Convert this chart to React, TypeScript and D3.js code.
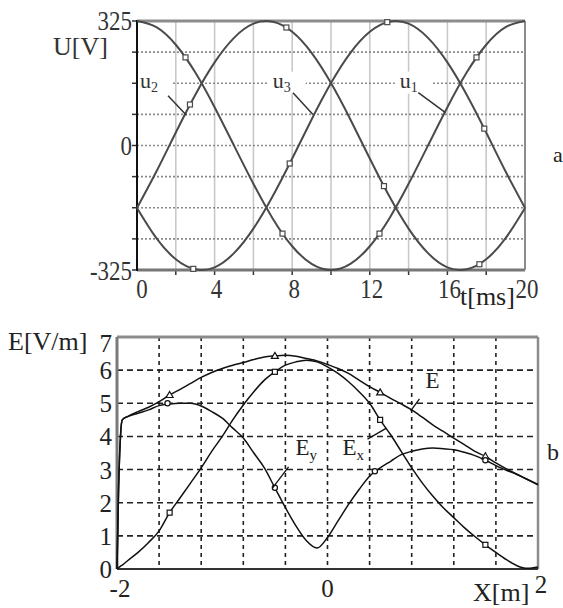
import React from "react";
import * as d3 from "d3";

// ---------- Panel a: three-phase voltages ----------
const timeMs = [0, 1, 2, 3, 4, 5, 6, 7, 8, 9, 10, 11, 12, 13, 14, 15, 16, 17, 18, 19, 20];
const u1 = [325, 309, 263, 191, 100, 0, -100, -191, -263, -309, -325, -309, -263, -191, -100, 0, 100, 191, 263, 309, 325];
const u2 = [-163, -68, 34, 132, 217, 281, 318, 323, 297, 242, 163, 68, -34, -132, -217, -281, -318, -323, -297, -242, -163];
const u3 = [-163, -242, -297, -323, -318, -281, -217, -132, -34, 68, 163, 242, 297, 323, 318, 281, 217, 132, 34, -68, -163];

const u1MarkT = [2.5, 7.5, 12.5, 17.5];
const u1MarkV = [230, -230, -230, 230];
const u2MarkT = [2.73, 7.7, 12.73, 17.65];
const u2MarkV = [107, 308, -106, -310];
const u3MarkT = [2.9, 7.87, 12.9, 17.9];
const u3MarkV = [-322, -47, 322, 44];

const uTicksX = [0, 4, 8, 12, 16, 20];
const uTicksY = [325, 0, -325];
const uGridX = [2, 4, 6, 8, 10, 12, 14, 16, 18];
const uGridY = [243.75, 162.5, 81.25, 0, -81.25, -162.5, -243.75];

// label anchor (t, U) and leader line (t0, U0) -> (t1, U1)
const uLabelNames = ["2", "3", "1"];
const uLabelT = [0.15, 7.0, 13.55];
const uLabelV = [151, 151, 151];
const uLeaderFrom = [[1.6, 130], [8.04, 138], [14.5, 138]];
const uLeaderTo = [[2.55, 79], [9.07, 81], [15.9, 86]];

// ---------- Panel b: field strength along X ----------
const xPos = [
  -2, -1.985, -1.965, -1.95, -1.9, -1.8, -1.7, -1.6, -1.5, -1.4, -1.3, -1.2, -1.1, -1.0,
  -0.9, -0.8, -0.7, -0.6, -0.5, -0.4, -0.3, -0.2, -0.1, 0, 0.1, 0.2, 0.3, 0.4, 0.5, 0.6,
  0.7, 0.8, 0.9, 1.0, 1.1, 1.2, 1.3, 1.4, 1.5, 1.6, 1.7, 1.8, 1.9, 2.0,
];
const eTotal = [
  0, 2.4, 4.1, 4.5, 4.6, 4.75, 4.88, 5.05, 5.25, 5.42, 5.6, 5.78, 5.93, 6.05,
  6.15, 6.23, 6.32, 6.4, 6.43, 6.45, 6.42, 6.35, 6.28, 6.17, 6.05, 5.9, 5.7, 5.5, 5.33, 5.15,
  4.98, 4.8, 4.58, 4.35, 4.15, 3.95, 3.75, 3.55, 3.4, 3.2, 3.02, 2.86, 2.7, 2.54,
];
const eX = [
  0, 0.04, 0.09, 0.12, 0.25, 0.5, 0.8, 1.15, 1.7, 2.15, 2.6, 3.05, 3.55, 4.0,
  4.5, 4.95, 5.35, 5.7, 5.95, 6.15, 6.25, 6.3, 6.25, 6.1, 5.9, 5.65, 5.35, 5.0, 4.5, 4.05,
  3.55, 3.05, 2.6, 2.2, 1.85, 1.55, 1.25, 0.98, 0.73, 0.5, 0.28, 0.1, 0.02, 0.06,
];
const eY = [
  0, 2.4, 4.1, 4.5, 4.6, 4.7, 4.8, 4.93, 4.98, 5.0, 5.0, 4.92, 4.75, 4.55,
  4.25, 3.95, 3.5, 3.05, 2.45, 1.85, 1.3, 0.85, 0.63, 0.95, 1.45, 1.95, 2.4, 2.8, 3.05, 3.25,
  3.45, 3.55, 3.62, 3.65, 3.63, 3.6, 3.52, 3.42, 3.28, 3.12, 2.98, 2.85, 2.7, 2.55,
];

const eMarkX = [-1.5, -0.5, 0.5, 1.5];
const eMarkV = [5.25, 6.43, 5.33, 3.4];
const exMarkX = [-1.5, -0.5, 0.5, 1.5];
const exMarkV = [1.7, 5.95, 4.5, 0.73];
const eyMarkX = [-1.52, -0.5, 0.45, 1.5];
const eyMarkV = [5.0, 2.45, 2.95, 3.28];

const eTicksY = [0, 1, 2, 3, 4, 5, 6, 7];
const eTicksX = [-2, 0, 2];
const eGridX = [-1.6, -1.2, -0.8, -0.4, 0, 0.4, 0.8, 1.2, 1.6];
const eGridY = [1, 2, 3, 4, 5, 6];

const SERIF = "Liberation Serif, DejaVu Serif, serif";

function Label({ x, y, size, anchor = "start", sx = 1, fill = "#222", children }: any) {
  return (
    <text
      transform={`translate(${x},${y}) scale(${sx},1)`}
      style={{ fontFamily: SERIF, fontSize: size }}
      textAnchor={anchor}
      fill={fill}
    >
      {children}
    </text>
  );
}

export default function App() {
  // panel a scales
  const xt = d3.scaleLinear().domain([0, 20]).range([137, 525]);
  const yu = d3.scaleLinear().domain([-325, 325]).range([270, 21]);
  const uLine = d3
    .line<number>()
    .x((_, i) => xt(timeMs[i]))
    .y((d) => yu(d))
    .curve(d3.curveNatural);

  // panel b scales
  const xm = d3.scaleLinear().domain([-2, 2]).range([117, 538]);
  const ye = d3.scaleLinear().domain([0, 7]).range([569, 337]);
  const eLine = d3
    .line<number>()
    .x((_, i) => xm(xPos[i]))
    .y((d) => ye(d))
    .curve(d3.curveMonotoneX);

  const uColor = "#4a4a4a";
  const sq = (cx: number, cy: number, key: string, stroke: string) => (
    <rect key={key} x={cx - 2.5} y={cy - 2.5} width={5} height={5} fill="#fff" stroke={stroke} strokeWidth={1.2} />
  );
  const tri = (cx: number, cy: number, key: string) => (
    <path
      key={key}
      d={`M${cx},${cy - 3.5}L${cx + 3.5},${cy + 2.5}L${cx - 3.5},${cy + 2.5}Z`}
      fill="#fff"
      stroke="#111"
      strokeWidth={1.2}
    />
  );

  return (
    <svg
      width={563}
      height={608}
      style={{ position: "absolute", left: 0, top: 0, background: "#fff", fontFamily: SERIF }}
    >
      {/* ===== Panel a ===== */}
      <g>
        {uGridX.map((t) => (
          <line key={"gx" + t} x1={xt(t)} x2={xt(t)} y1={yu(325)} y2={yu(-325)} stroke="#c9c9c9" strokeWidth={1.6} />
        ))}
        {uGridY.map((v) => (
          <line
            key={"gy" + v}
            x1={xt(0)}
            x2={xt(20)}
            y1={yu(v)}
            y2={yu(v)}
            stroke="#8a8a8a"
            strokeWidth={1.6}
            strokeDasharray="2,2"
          />
        ))}
        {/* label backgrounds */}
        {uLabelT.map((t, i) => (
          <rect key={"bg" + i} x={xt(t) - 5} y={yu(uLabelV[i]) - 16} width={38} height={22} fill="#fff" />
        ))}
        {/* axis ticks */}
        {[325, ...uGridY, -325].map((v) => (
          <line key={"lt" + v} x1={xt(0) - 5} x2={xt(0)} y1={yu(v)} y2={yu(v)} stroke="#333" strokeWidth={1.5} />
        ))}
        {uGridX.map((t) => (
          <line key={"bt" + t} x1={xt(t)} x2={xt(t)} y1={yu(-325)} y2={yu(-325) + 5} stroke="#333" strokeWidth={1.5} />
        ))}
        {/* frame */}
        <line x1={xt(0)} x2={xt(20)} y1={yu(325)} y2={yu(325)} stroke="#8c8c8c" strokeWidth={3} />
        <line x1={xt(0)} x2={xt(20)} y1={yu(-325)} y2={yu(-325)} stroke="#777" strokeWidth={3} />
        <line x1={xt(20)} x2={xt(20)} y1={yu(325)} y2={yu(-325)} stroke="#8c8c8c" strokeWidth={2} />
        <line x1={xt(0)} x2={xt(0)} y1={yu(325) - 1} y2={yu(-325) + 1} stroke="#111" strokeWidth={2} />

        {/* phase voltages */}
        {[u1, u2, u3].map((s, i) => (
          <path key={"u" + i} d={uLine(s) || ""} fill="none" stroke={uColor} strokeWidth={2} />
        ))}
        {u1MarkT.map((t, i) => sq(xt(t), yu(u1MarkV[i]), "m1" + i, uColor))}
        {u2MarkT.map((t, i) => sq(xt(t), yu(u2MarkV[i]), "m2" + i, uColor))}
        {u3MarkT.map((t, i) => sq(xt(t), yu(u3MarkV[i]), "m3" + i, uColor))}

        {/* labels and leaders */}
        {uLabelT.map((t, i) => (
          <g key={"ul" + i}>
            <line
              x1={xt(uLeaderFrom[i][0])}
              y1={yu(uLeaderFrom[i][1])}
              x2={xt(uLeaderTo[i][0])}
              y2={yu(uLeaderTo[i][1])}
              stroke="#333"
              strokeWidth={1.5}
            />
            <text x={xt(t)} y={yu(uLabelV[i])} style={{ fontFamily: SERIF, fontSize: 22 }} fill="#333">
              u
              <tspan style={{ fontSize: 14 }} dy={4}>
                {uLabelNames[i]}
              </tspan>
            </text>
          </g>
        ))}

        {/* tick labels */}
        {uTicksY.map((v) => (
          <Label key={"ty" + v} x={132} y={yu(v) + (v === -325 ? 10 : 9)} size={27} sx={0.85} anchor="end" fill="#333">
            {v < 0 ? "-" + Math.abs(v) : String(v)}
          </Label>
        ))}
        {uTicksX.map((t) => (
          <Label key={"tx" + t} x={xt(t) + (t === 0 ? 5 : 2)} y={298} size={27} sx={0.85} anchor="middle" fill="#333">
            {String(t)}
          </Label>
        ))}
        <Label x={53} y={55} size={26} fill="#333">U[V]</Label>
        <Label x={460} y={305} size={26} fill="#222">t[ms]</Label>
        <Label x={553} y={162} size={22} fill="#222">a</Label>
      </g>

      {/* ===== Panel b ===== */}
      <g>
        {eGridX.map((x) => (
          <line
            key={"egx" + x}
            x1={xm(x)}
            x2={xm(x)}
            y1={ye(7)}
            y2={ye(0)}
            stroke="#222"
            strokeWidth={1.6}
            strokeDasharray="4,4"
          />
        ))}
        {eGridY.map((v) => (
          <line
            key={"egy" + v}
            x1={xm(-2)}
            x2={xm(2)}
            y1={ye(v)}
            y2={ye(v)}
            stroke="#222"
            strokeWidth={1.6}
            strokeDasharray="6,4"
          />
        ))}
        {/* frame */}
        <line x1={xm(-2)} x2={xm(2)} y1={ye(7)} y2={ye(7)} stroke="#8c8c8c" strokeWidth={3} />
        <line x1={xm(2)} x2={xm(2)} y1={ye(7)} y2={ye(0)} stroke="#8c8c8c" strokeWidth={2.5} />
        <line x1={xm(-2)} x2={xm(-2)} y1={ye(7)} y2={ye(0)} stroke="#7a7a7a" strokeWidth={3} />
        <line x1={xm(-2)} x2={xm(2)} y1={ye(0)} y2={ye(0)} stroke="#333" strokeWidth={2} />

        {[eTotal, eX, eY].map((s, i) => (
          <path key={"e" + i} d={eLine(s) || ""} fill="none" stroke="#111" strokeWidth={1.5} />
        ))}
        {eMarkX.map((x, i) => tri(xm(x), ye(eMarkV[i]), "em" + i))}
        {exMarkX.map((x, i) => sq(xm(x), ye(exMarkV[i]), "exm" + i, "#111"))}
        {eyMarkX.map((x, i) => (
          <circle key={"eym" + i} cx={xm(x)} cy={ye(eyMarkV[i])} r={2.6} fill="#fff" stroke="#111" strokeWidth={1.2} />
        ))}

        {/* leaders */}
        <line x1={xm(0.79)} y1={ye(4.77)} x2={xm(0.874)} y2={ye(5.13)} stroke="#111" strokeWidth={1.3} />
        <line x1={xm(-0.523)} y1={ye(2.44)} x2={xm(-0.37)} y2={ye(3.08)} stroke="#111" strokeWidth={1.3} />
        <line x1={xm(0.38)} y1={ye(3.92)} x2={xm(0.56)} y2={ye(4.25)} stroke="#111" strokeWidth={1.3} />

        <Label x={xm(0.93)} y={ye(5.46)} size={23}>E</Label>
        <text x={xm(-0.304)} y={ye(3.44)} style={{ fontFamily: SERIF, fontSize: 23 }} fill="#222">
          E<tspan style={{ fontSize: 15 }} dy={5}>y</tspan>
        </text>
        <text x={xm(0.143)} y={ye(3.44)} style={{ fontFamily: SERIF, fontSize: 23 }} fill="#222">
          E<tspan style={{ fontSize: 15 }} dy={5}>x</tspan>
        </text>

        {eTicksY.map((v) => (
          <Label key={"ety" + v} x={112} y={ye(v) + (v === 7 ? 15 : 9)} size={25} anchor="end">
            {String(v)}
          </Label>
        ))}
        {eTicksX.map((x) => (
          <Label key={"etx" + x} x={xm(x) + (x === -2 ? 3 : x === 2 ? 3 : 0)} y={x === 2 ? 593 : 597} size={25} anchor="middle">
            {x < 0 ? "-" + Math.abs(x) : String(x)}
          </Label>
        ))}
        <Label x={8} y={350} size={26}>E[V/m]</Label>
        <Label x={473} y={601} size={26}>X[m]</Label>
        <Label x={547} y={460} size={24}>b</Label>
      </g>
    </svg>
  );
}
